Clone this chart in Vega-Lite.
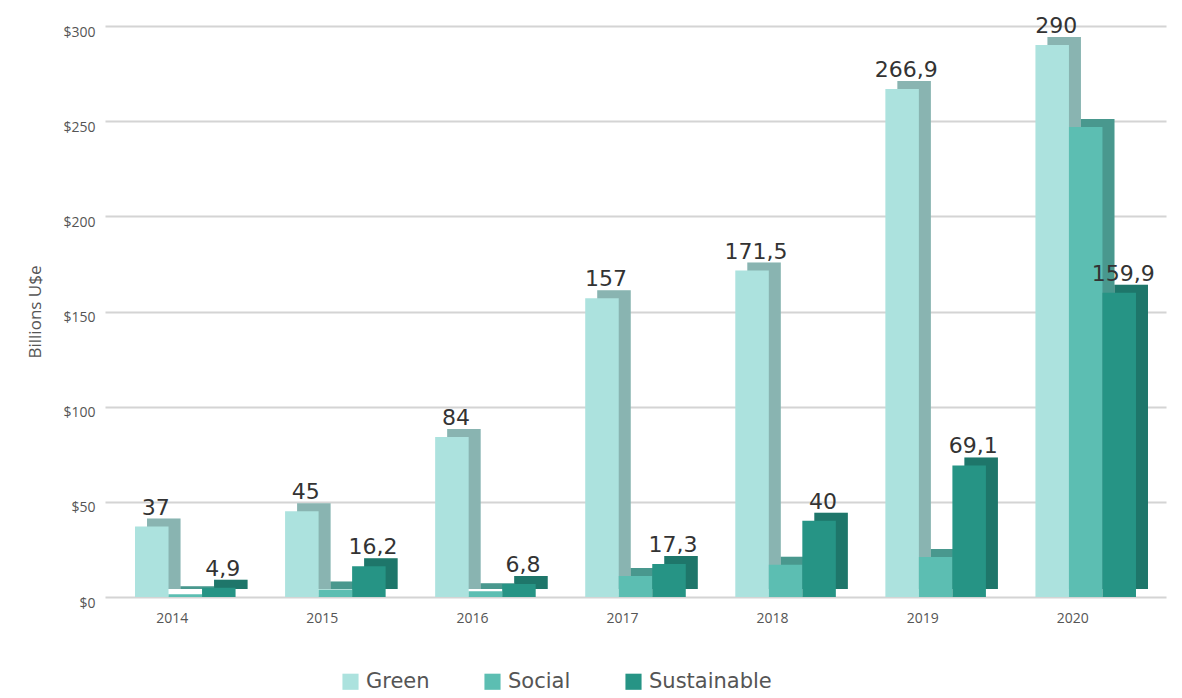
{
  "$schema": "https://vega.github.io/schema/vega-lite/v6.json",
  "width": 1061,
  "height": 571,
  "autosize": "none",
  "padding": {"left": 105, "top": 26, "right": 16, "bottom": 101},
  "background": "white",
  "config": {
    "font": "Open Sans",
    "view": {"stroke": null},
    "locale": {"number": {"decimal": ",", "thousands": ".", "grouping": [3], "currency": ["$", ""]}}
  },
  "data": {
    "values": [
      {"year": "2014", "category": "Green", "value": 37},
      {"year": "2014", "category": "Social", "value": 1.5},
      {"year": "2014", "category": "Sustainable", "value": 4.9},
      {"year": "2015", "category": "Green", "value": 45},
      {"year": "2015", "category": "Social", "value": 4},
      {"year": "2015", "category": "Sustainable", "value": 16.2},
      {"year": "2016", "category": "Green", "value": 84},
      {"year": "2016", "category": "Social", "value": 3},
      {"year": "2016", "category": "Sustainable", "value": 6.8},
      {"year": "2017", "category": "Green", "value": 157},
      {"year": "2017", "category": "Social", "value": 11},
      {"year": "2017", "category": "Sustainable", "value": 17.3},
      {"year": "2018", "category": "Green", "value": 171.5},
      {"year": "2018", "category": "Social", "value": 17},
      {"year": "2018", "category": "Sustainable", "value": 40},
      {"year": "2019", "category": "Green", "value": 266.9},
      {"year": "2019", "category": "Social", "value": 21},
      {"year": "2019", "category": "Sustainable", "value": 69.1},
      {"year": "2020", "category": "Green", "value": 290},
      {"year": "2020", "category": "Social", "value": 247},
      {"year": "2020", "category": "Sustainable", "value": 159.9}
    ]
  },
  "encoding": {
    "xOffset": {"field": "category", "type": "nominal", "scale": {"paddingInner": 0, "paddingOuter": 0}},
    "y": {
      "field": "value", "type": "quantitative",
      "scale": {"domain": [0, 300], "nice": false},
      "axis": {"title": "Billions U$e", "values": [0, 50, 100, 150, 200, 250, 300], "labelExpr": "'$' + datum.value", "domain": false, "ticks": false, "labelFontSize": 14, "labelColor": "#555555", "labelPadding": 10, "labelOffset": 6, "gridColor": "#d4d4d4", "gridWidth": 2, "titleFontSize": 17, "titleFontWeight": "normal", "titleColor": "#555555", "titlePadding": 18}
    },
    "color": {"field": "category", "type": "nominal",
      "scale": {"domain": ["Green", "Social", "Sustainable"], "range": ["#ace2de", "#5cbeb2", "#269485"]},
      "legend": {"title": null, "orient": "none", "legendX": 235, "legendY": 645, "direction": "horizontal", "symbolType": "square", "symbolSize": 260, "symbolStrokeWidth": 0, "labelFont": "DejaVu Sans", "labelFontSize": 21, "labelColor": "#555555", "columnPadding": 52, "labelOffset": 5}
    }
  },
  "layer": [
    {
      "encoding": {
        "x": {
          "field": "year", "type": "nominal",
          "scale": {"paddingInner": 0.33, "paddingOuter": 0.2, "align": 0.7},
          "axis": null
        }
      },
      "layer": [
        {"mark": {"type": "bar", "yOffset": -8}},
        {"mark": {"type": "bar", "yOffset": -8, "color": "#000000", "opacity": 0.2}, "encoding": {"color": {"value": "#000000"}}}
      ]
    },
    {
      "encoding": {
        "x": {
          "field": "year", "type": "nominal",
          "scale": {"paddingInner": 0.33, "paddingOuter": 0.2, "align": 0.5},
          "axis": {"title": null, "labelAngle": 0, "domain": false, "ticks": false, "labelFontSize": 14, "labelColor": "#555555", "labelPadding": 14, "labelOffset": -13}
        }
      },
      "layer": [
        {"mark": {"type": "bar"}},
        {
          "transform": [{"filter": "datum.category != 'Social'"}],
          "mark": {"type": "text", "baseline": "alphabetic", "dy": -12, "dx": 4, "font": "DejaVu Sans", "fontSize": 22, "color": "#333333"},
          "encoding": {
            "color": {"value": "#333333"},
            "text": {"field": "value", "type": "quantitative", "format": ".1~f"}
          }
        }
      ]
    }
  ],
  "resolve": {"scale": {"x": "independent", "xOffset": "independent"}}
}
